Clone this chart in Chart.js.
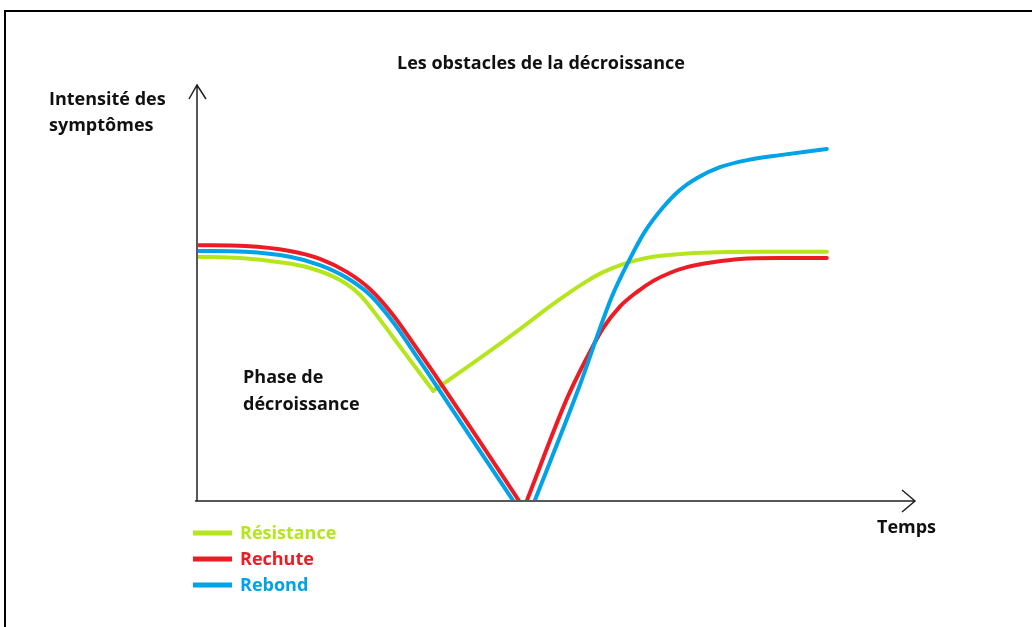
<!DOCTYPE html>
<html lang="fr">
<head>
<meta charset="utf-8">
<title>Les obstacles de la décroissance</title>
<script src="https://cdn.jsdelivr.net/npm/chart.js@4.4.0/dist/chart.umd.min.js"></script>
<style>
  html, body { margin: 0; padding: 0; background: #fff; overflow: hidden; }
  #wrap { position: relative; width: 1032px; height: 627px; }
</style>
</head>
<body>
<div id="wrap"><canvas id="chart"></canvas></div>
<script>
const chartTitle = 'Les obstacles de la décroissance';
const yAxisLabel = ['Intensité des', 'symptômes'];
const xAxisLabel = 'Temps';
const phaseLabel = ['Phase de', 'décroissance'];
const seriesNames = ['Résistance', 'Rechute', 'Rebond'];
const seriesColors = ['#b5e61d', '#ed1c24', '#00a2e8'];

// Résistance: descent, then a slow climb back to a plateau
const resistanceDownX = [0, 5.9, 11.4, 15.6, 19.8, 22.6, 25.4, 28.2, 32.8];
const resistanceDownY = [58.6, 58.3, 57.3, 55.9, 53.0, 49.4, 43.4, 36.9, 26.3];
const resistanceUpX = [32.8, 40.3, 44.9, 49.5, 51.9, 54.3, 56.5, 58.9, 61.2, 63.5, 68.2, 78.4, 87.7];
const resistanceUpY = [26.3, 35.4, 41.2, 47.2, 50.1, 52.8, 54.9, 56.6, 57.8, 58.6, 59.4, 59.8, 59.8];

// Rechute: falls to zero, comes back to the starting level
const rechuteDownX = [0, 6.6, 12.8, 17.0, 20.8, 24.0, 27.2, 30.0, 32.8, 38.8, 44.7];
const rechuteDownY = [61.4, 61.2, 60.0, 58.1, 54.9, 50.8, 44.6, 37.8, 30.8, 15.4, 0];
const rechuteUpX = [45.9, 51.5, 54.3, 56.5, 58.9, 61.2, 63.5, 65.8, 68.2, 71.8, 75.6, 81.2, 87.7];
const rechuteUpY = [0, 24.6, 34.5, 41.4, 46.7, 50.1, 52.8, 54.7, 56.1, 57.3, 58.1, 58.3, 58.3];

// Rebond: falls to zero, overshoots above the starting level
const rebondDownX = [0, 6.6, 12.8, 17.0, 20.8, 24.0, 27.2, 30.0, 32.8, 38.4, 43.9];
const rebondDownY = [60.0, 59.8, 58.6, 56.6, 53.5, 49.4, 42.9, 35.9, 28.7, 14.2, 0];
const rebondUpX = [47.0, 53.0, 57.7, 60.0, 62.3, 64.9, 67.2, 69.6, 72.8, 76.6, 81.2, 87.7];
const rebondUpY = [0, 26.5, 48.9, 57.3, 64.6, 70.6, 74.7, 77.6, 80.2, 81.9, 83.1, 84.6];

const FONT = 'bold 18px "Open Sans", Lato, sans-serif';

function pts(xs, ys) {
    return xs.map((x, i) => ({ x: x, y: ys[i] }));
}

function segment(idx, xs, ys, order) {
    return {
        label: seriesNames[idx],
        data: pts(xs, ys),
        borderColor: seriesColors[idx],
        backgroundColor: seriesColors[idx],
        borderWidth: 4,
        borderCapStyle: 'round',
        cubicInterpolationMode: 'monotone',
        pointRadius: 0,
        fill: false,
        order: order
    };
}

// frame, axes with arrow heads, texts and legend
const decorPlugin = {
    id: 'decor',
    beforeDatasetsDraw(chart) {
        const ctx = chart.ctx;
        const a = chart.chartArea;
        ctx.save();
        // outer frame (only top/left visible)
        ctx.strokeStyle = '#000';
        ctx.lineWidth = 2;
        ctx.beginPath();
        ctx.moveTo(5, chart.height + 10);
        ctx.lineTo(5, 11);
        ctx.lineTo(chart.width + 10, 11);
        ctx.stroke();

        ctx.strokeStyle = '#222';
        ctx.lineWidth = 1.5;
        ctx.beginPath();
        ctx.moveTo(a.left - 1, a.bottom + 1);
        ctx.lineTo(a.left - 1, a.top);
        ctx.moveTo(a.left - 9, a.top + 14);
        ctx.lineTo(a.left - 1, a.top);
        ctx.lineTo(a.left + 8, a.top + 14);
        ctx.moveTo(a.left - 3, a.bottom + 1);
        ctx.lineTo(a.right, a.bottom + 1);
        ctx.moveTo(a.right - 13, a.bottom - 10);
        ctx.lineTo(a.right, a.bottom + 1);
        ctx.lineTo(a.right - 13, a.bottom + 12);
        ctx.stroke();
        ctx.restore();
    },
    afterDraw(chart) {
        const ctx = chart.ctx;
        const a = chart.chartArea;
        ctx.save();
        ctx.font = FONT;
        ctx.fillStyle = '#111';
        ctx.textBaseline = 'alphabetic';

        ctx.textAlign = 'center';
        ctx.fillText(chartTitle, 541, 69);

        ctx.textAlign = 'left';
        ctx.fillText(yAxisLabel[0], 49, 105);
        ctx.fillText(yAxisLabel[1], 49, 131);
        ctx.fillText(xAxisLabel, 877, 533);
        ctx.fillText(phaseLabel[0], 243, 383);
        ctx.fillText(phaseLabel[1], 243, 410);

        // legend
        for (let i = 0; i < seriesNames.length; i++) {
            const y = a.bottom + 33 + i * 26;
            ctx.strokeStyle = seriesColors[i];
            ctx.lineWidth = 5;
            ctx.beginPath();
            ctx.moveTo(a.left - 5, y);
            ctx.lineTo(a.left + 34, y);
            ctx.stroke();
            ctx.fillStyle = seriesColors[i];
            ctx.fillText(seriesNames[i], a.left + 42, y + 6);
        }
        ctx.restore();
    }
};

function drawChart() {
    const ctx = document.getElementById('chart').getContext('2d');
    new Chart(ctx, {
        type: 'line',
        data: {
            datasets: [
                segment(2, rebondDownX, rebondDownY, 0),
                segment(2, rebondUpX, rebondUpY, 0),
                segment(1, rechuteDownX, rechuteDownY, 1),
                segment(1, rechuteUpX, rechuteUpY, 1),
                segment(0, resistanceDownX, resistanceDownY, 2),
                segment(0, resistanceUpX, resistanceUpY, 2)
            ]
        },
        options: {
            responsive: true,
            maintainAspectRatio: false,
            animation: false,
            layout: { padding: { left: 198, right: 117, top: 85, bottom: 127 } },
            plugins: {
                legend: { display: false },
                title: { display: false },
                tooltip: { enabled: false }
            },
            scales: {
                x: { type: 'linear', min: 0, max: 100, display: false },
                y: { min: 0, max: 100, display: false }
            }
        },
        plugins: [decorPlugin]
    });
}

document.fonts.load(FONT).then(drawChart, drawChart);
</script>
</body>
</html>
